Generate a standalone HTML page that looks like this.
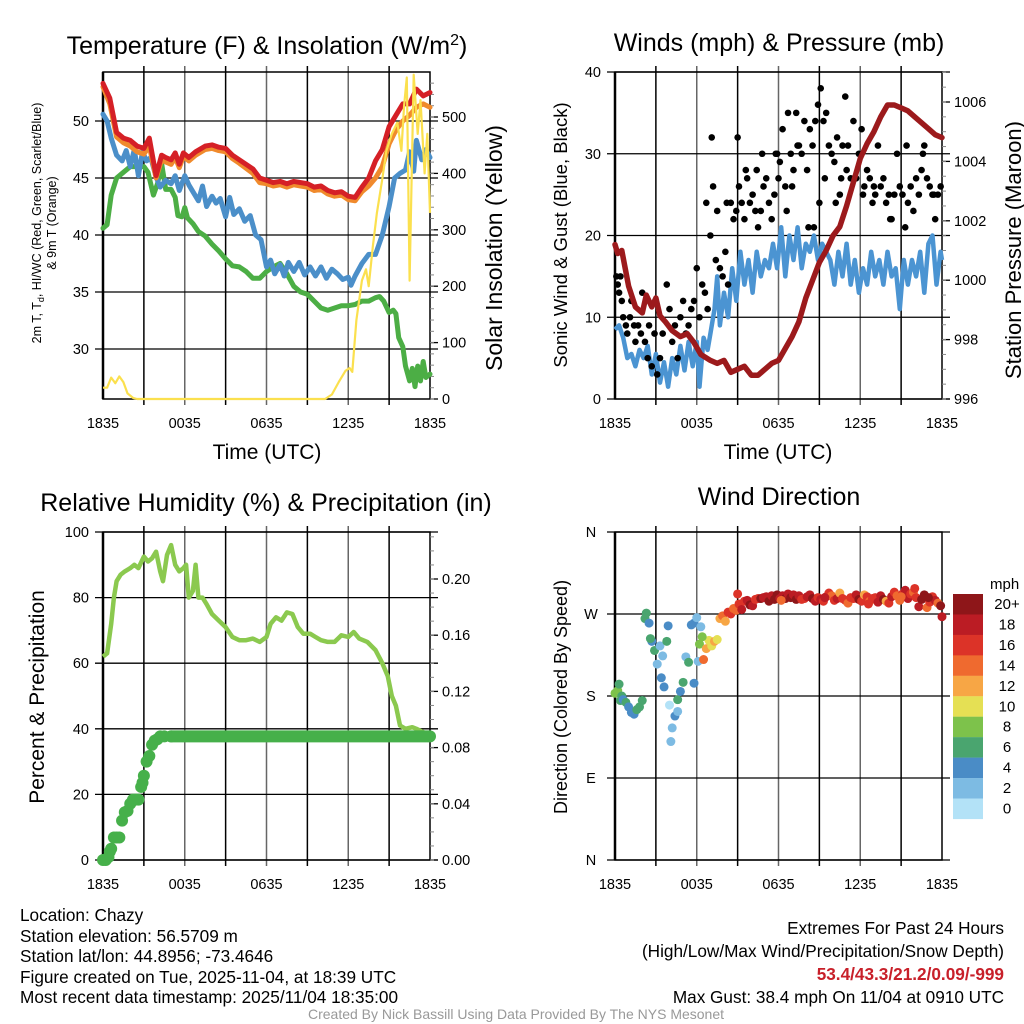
<!DOCTYPE html>
<html><head><meta charset="utf-8"><style>
html,body{margin:0;padding:0;background:#fff;}
svg{display:block;font-family:"Liberation Sans",sans-serif;}
</style></head><body>
<svg id="c" width="1024" height="1024" viewBox="0 0 1024 1024" xmlns="http://www.w3.org/2000/svg">
<rect width="1024" height="1024" fill="#fff"/>
<text x="267" y="54" font-size="25" text-anchor="middle">Temperature (F) &amp; Insolation (W/m<tspan dy="-9" font-size="16">2</tspan><tspan dy="9">)</tspan></text>
<text x="779" y="51" font-size="25" text-anchor="middle">Winds (mph) &amp; Pressure (mb)</text>
<text x="266" y="511" font-size="25" text-anchor="middle">Relative Humidity (%) &amp; Precipitation (in)</text>
<text x="779" y="505" font-size="25" text-anchor="middle">Wind Direction</text>
<text x="267" y="459" font-size="21" text-anchor="middle">Time (UTC)</text>
<text x="778" y="459" font-size="21" text-anchor="middle">Time (UTC)</text>
<g font-size="12.5" text-anchor="middle">
<text transform="translate(41,223) rotate(-90)">2m T, T<tspan dy="3" font-size="9">d</tspan><tspan dy="-3">, HI/WC (Red, Green, Scarlet/Blue)</tspan></text>
<text transform="translate(56,223) rotate(-90)">&amp; 9m T (Orange)</text>
</g>
<text transform="translate(502,248) rotate(-90)" font-size="23" text-anchor="middle">Solar Insolation (Yellow)</text>
<text transform="translate(567,235) rotate(-90)" font-size="18.5" text-anchor="middle">Sonic Wind &amp; Gust (Blue, Black)</text>
<text transform="translate(1021,250) rotate(-90)" font-size="22" text-anchor="middle">Station Pressure (Maroon)</text>
<text transform="translate(44,697) rotate(-90)" font-size="21" text-anchor="middle">Percent &amp; Precipitation</text>
<text transform="translate(567,697) rotate(-90)" font-size="18" text-anchor="middle">Direction (Colored By Speed)</text>
<g font-size="17.2">
<text x="20" y="921">Location: Chazy</text>
<text x="20" y="942">Station elevation: 56.5709 m</text>
<text x="20" y="962">Station lat/lon: 44.8956; -73.4646</text>
<text x="20" y="983">Figure created on Tue, 2025-11-04, at 18:39 UTC</text>
<text x="20" y="1003">Most recent data timestamp: 2025/11/04 18:35:00</text>
</g>
<g font-size="17.2" text-anchor="end">
<text x="1004" y="934">Extremes For Past 24 Hours</text>
<text x="1004" y="957">(High/Low/Max Wind/Precipitation/Snow Depth)</text>
<text x="1004" y="980" fill="#c8202a" font-weight="bold">53.4/43.3/21.2/0.09/-999</text>
<text x="1004" y="1003">Max Gust: 38.4 mph On 11/04 at 0910 UTC</text>
</g>
<text x="516" y="1019" font-size="14" fill="#999" text-anchor="middle">Created By Nick Bassill Using Data Provided By The NYS Mesonet</text>
</svg>
<script>
// ---- data (time in hours since 1835 UTC) ----
const timeTicks = ["1835","0035","0635","1235","1835"];
const tempT = [0,53.3,0.5,52,1,49,1.5,48.5,2,48.3,2.5,47.8,3,47.6,3.4,48.5,3.7,46.5,3.9,45.2,4.3,47,4.6,46.8,5,46.6,5.3,47.2,5.6,46.2,5.9,47.2,6.3,46.8,6.8,47.3,7.5,47.8,8,47.9,8.5,47.7,9,47.6,9.5,47,10,46.6,11,45.8,11.5,45,12,44.8,12.5,44.6,13,44.7,13.5,44.5,14,44.7,14.5,44.6,15,44.5,15.5,44.2,16,44.3,16.5,43.9,17,43.7,17.5,43.8,18,43.4,18.5,43.3,19,44.2,19.5,45,20,46.5,20.5,47.5,21,49.5,21.5,50.5,22,51.5,22.5,51.5,23,52.8,23.5,52.2,24,52.5];
const temp9m = [0,53,0.5,51.5,1,48.6,1.5,48.1,2,47.8,2.5,47.3,3,47.1,3.4,47.8,3.7,46.1,3.9,45,4.3,46.6,4.6,46.4,5,46.2,5.3,46.8,5.6,45.9,5.9,46.9,6.3,46.5,6.8,47,7.5,47.5,8,47.6,8.5,47.4,9,47.3,9.5,46.7,10,46.3,11,45.4,11.5,44.6,12,44.5,12.5,44.3,13,44.4,13.5,44.2,14,44.4,14.5,44.3,15,44.2,15.5,43.9,16,44,16.5,43.6,17,43.4,17.5,43.5,18,43.1,18.5,43,19,43.8,19.5,44.3,20,45,20.5,46,21,48,21.5,49.2,22,50,22.5,50.5,23,51.2,23.5,51.5,24,51.2];
const tempWC = [0,50.6,0.3,50,0.6,48.5,1,47,1.4,46.5,1.7,47.4,2,46,2.3,47.5,2.6,45.2,2.9,47.3,3.2,46.5,3.5,46.8,3.9,45.1,4.2,44.2,4.6,44.8,5,44.5,5.3,45.2,5.6,43.9,6,45.2,6.3,44.4,6.6,43.8,7,43,7.3,44.3,7.6,42.5,8,43.4,8.3,42.8,8.6,43.2,9,41.6,9.3,43.3,9.6,41.8,10,42.3,10.4,41.2,10.8,41.7,11.2,40,11.6,39.6,12,37.2,12.3,37.8,12.6,36.6,13,37.4,13.3,36.4,13.6,37.6,14,36.8,14.4,37.6,14.8,36.5,15.2,37.2,15.6,36.4,16,37.2,16.4,36.2,16.8,37,17.2,36.6,17.6,36.1,18,36.3,18.2,35.6,18.5,36.4,19,37.5,19.5,38.3,20,38.3,20.5,40,21,42.5,21.4,45,21.8,45.4,22.2,45.7,22.5,47.3,22.8,45.6,23,48.3,23.4,46.6,23.7,47.5,24,46.8];
const tempTd = [0,40.6,0.3,40.9,0.6,43.5,1,45,1.5,45.5,2,46,2.5,46,3,46,3.3,45.5,3.7,43.5,4,44.5,4.3,46.3,4.6,44,5,44,5.3,43.3,5.5,41.7,5.8,41.6,6,42.4,6.2,41.5,6.6,41,7,40.3,7.5,39.9,8,39.2,8.5,38.6,9,37.9,9.5,37.3,10,37.2,10.5,36.8,11,36.2,11.5,36.2,12,36.8,12.5,37.2,13,37.5,13.5,36.6,14,35.5,14.5,35,15,34.8,15.5,34.2,16,33.6,16.5,33.4,17,33.6,17.5,33.8,18,33.8,18.5,33.9,19,34.2,19.5,34.2,20,34.5,20.3,34.6,20.6,34.2,21,33.2,21.3,33.4,21.5,33.1,21.7,31,22,30.2,22.2,28.5,22.5,27.2,22.7,28.3,22.9,26.7,23.1,28.5,23.3,27.2,23.5,28.9,23.7,27.5,24,27.8];
const insolation = [0,20,0.3,20,0.6,38,0.9,28,1.2,40,1.5,30,1.8,10,2.2,2,2.5,0,6,0,12,0,16.3,0,16.8,8,17.3,30,17.8,50,18.1,55,18.3,48,18.6,140,19,210,19.3,230,19.5,200,19.8,270,20.1,330,20.5,390,20.8,440,21.2,470,21.6,490,21.9,440,22.1,520,22.3,570,22.5,210,22.8,575,23.1,470,23.3,530,23.6,400,23.8,470,24,330];
const pressure = [0,1001.2,0.2,1000.9,0.5,1001,1,999.8,1.5,999.1,2,998.9,2.3,999.5,2.7,999.1,3,999.4,3.3,998.8,3.7,998.6,4.2,998.3,4.8,998.1,5.3,998.2,5.8,997.9,6.3,997.5,7,997.3,7.5,997.2,8,997.3,8.5,996.9,9,997.0,9.5,997.1,10,996.8,10.5,996.8,11,997.0,11.5,997.2,12,997.3,12.5,997.7,13,998.1,13.5,998.6,14,999.4,14.5,1000.0,15,1000.6,15.5,1001.0,16,1001.5,16.5,1001.8,17,1002.5,17.5,1003.3,18,1004.1,18.5,1004.6,19,1005.0,19.5,1005.5,20,1005.9,20.5,1005.9,21,1005.8,21.5,1005.7,22,1005.5,22.5,1005.3,23,1005.1,23.5,1004.9,24,1004.8];
const windSpeed = [0,8.5,0.3,9,0.6,7.5,0.9,5,1.2,5.5,1.5,4,1.8,6,2.1,5,2.4,6.5,2.7,3,3,5.5,3.3,2,3.6,4.5,3.9,1.5,4.2,5,4.5,3,4.8,6.5,5.1,3.5,5.4,7,5.7,4,6,7,6.2,1.5,6.5,7.5,6.8,6,7,8,7.3,11,7.5,15,7.7,9,8,13,8.3,10,8.6,16,8.9,12,9.2,18,9.5,14,9.8,17,10.1,13,10.4,18,10.7,15,11,17,11.3,16,11.6,19,11.9,16,12.2,21,12.5,15,12.8,20,13.1,17,13.4,21,13.7,16,14,19,14.3,18,14.6,20,14.9,17,15.2,19,15.5,18,15.8,17,16.1,14,16.4,18,16.7,15,17,19,17.3,14,17.6,17,17.9,13,18.2,16,18.5,14,18.8,18,19.1,15,19.4,17,19.7,14,20,18,20.3,15,20.6,16,20.9,11,21.2,17,21.5,14,21.8,17,22.1,15,22.4,18,22.7,13,23,19,23.3,20,23.6,14,23.9,18,24,17];
const gustTime = [0.1,0.2,0.3,0.4,0.5,0.6,0.8,0.9,1.1,1.2,1.4,1.5,1.7,1.9,2.0,2.2,2.4,2.5,2.7,2.9,3.1,3.3,3.5,3.8,4.0,4.2,4.4,4.6,4.8,5.0,5.2,5.4,5.6,5.8,6.0,6.2,6.4,6.6,6.8,7.0,7.2,7.4,7.5,7.7,7.9,8.1,8.3,8.5,8.7,8.9,9.1,9.3,9.5,9.7,9.9,10.1,10.3,10.5,10.7,10.9,11.1,11.3,11.5,11.7,11.9,12.1,12.3,12.5,12.7,12.9,13.1,13.3,13.5,13.7,13.9,14.1,14.3,14.5,14.7,14.9,15.1,15.3,15.5,15.7,15.9,16.1,16.3,16.5,16.7,16.9,17.1,17.3,17.5,17.7,17.9,18.1,18.3,18.5,18.7,18.9,19.1,19.3,19.5,19.7,19.9,20.1,20.3,20.5,20.7,20.9,21.1,21.3,21.5,21.7,21.9,22.1,22.3,22.5,22.7,22.9,23.1,23.3,23.5,23.7,23.9,8.2,9.0,10.4,11.8,12.6,13.4,14.6,15.4,16.2,17.0,18.2,19.0,20.2,21.4,22.6,23.4,6.7,7.1,9.6,10.8,12.0,13.0,14.2,15.0,16.6];
const gustValue = [15,14,13,15,12,10,9,8,10,12,9,7,9,8,13,7,5,9,4,8,3,5,8,14,11,7,9,5,10,12,8,9,11,12,16,10,14,13,11,20,26,17,23,16,15,18,14,24,22,23,26,24,22,27,24,25,23,21,23,26,27,24,22,25,30,29,33,26,35,30,28,35,31,30,34,28,33,31,34,36,38,34,35,31,30,29,32,25,31,37,31,27,34,27,30,33,26,28,27,24,25,31,26,27,24,25,22,25,30,26,25,21,24,26,23,27,25,28,31,27,26,25,22,25,26,24,32,28,30,23,31,21,27,24,28,25,26,22,31,30,25,24,32,28,30,27,26,21,24,27,23,32,30,26];
const rh = [0,62,0.3,63,0.6,72,0.8,80,1,85,1.3,87,1.6,88,2,89,2.3,90,2.6,89,3,92.5,3.3,91,3.6,92,3.9,94,4.2,88,4.4,85,4.7,93,5,96,5.3,90,5.6,88,5.9,89,6.1,90,6.3,80,6.6,82,6.8,90,7,80,7.3,80,7.6,78,8,75,8.5,73,9,71,9.5,68,10,67,10.5,67,11,67.5,11.5,66.5,12,68,12.3,72,12.7,74,13.1,73,13.5,75.5,13.9,75,14.3,71,14.7,69,15.2,69,15.6,68,16,67,16.5,66.5,17,66.5,17.5,68.5,18,68,18.4,69.5,18.8,67.5,19.4,66.5,20,64,20.5,60,20.9,56,21.2,50,21.5,47,21.8,41,22.2,40,22.7,40.5,23,40,23.5,39,24,38];
const precipTime = [0,0.2,0.4,0.5,0.6,0.8,1,1.2,1.4,1.6,1.8,2,2.2,2.4,2.6,2.8,2.9,3,3.2,3.4,3.6,3.8,4,4.2,4.5,5];
const precipValue = [0,0,0.002,0.006,0.008,0.016,0.016,0.016,0.028,0.034,0.035,0.04,0.043,0.043,0.043,0.052,0.055,0.06,0.07,0.074,0.082,0.085,0.086,0.088,0.088,0.088];
const dirTime = [0,0.2,0.3,0.4,0.5,0.6,0.8,1.0,1.2,1.4,1.6,1.8,2.0,2.2,2.3,2.5,2.7,2.9,3.1,3.3,3.5,3.6,3.8,3.9,4.0,4.1,4.2,4.4,4.6,4.8,5.0,5.2,5.4,5.6,5.8,6.0,6.1,6.2,6.3,6.5,6.7,6.9,7.1,7.3,7.5,7.7,7.9,8.1,8.3,8.5,8.7,8.9,9.1,9.3,9.5,9.7,9.9,10.1,10.3,10.5,10.7,10.9,11.1,11.3,11.5,11.7,11.9,12.1,12.3,12.5,12.7,12.9,13.1,13.3,13.5,13.7,13.9,14.1,14.3,14.5,14.7,14.9,15.1,15.3,15.5,15.7,15.9,16.1,16.3,16.5,16.7,16.9,17.1,17.3,17.5,17.7,17.9,18.1,18.3,18.5,18.7,18.9,19.1,19.3,19.5,19.7,19.9,20.1,20.3,20.5,20.7,20.9,21.1,21.3,21.5,21.7,21.9,22.1,22.3,22.5,22.7,22.9,23.1,23.3,23.5,23.7,23.9,24.0,2.6,3.4,4.6,5.8,6.4,9.0,12.2,15.4,18.6,21.0,22.0,23.0];
const dirValue = [183,186,193,175,180,176,173,168,162,160,165,168,175,265,271,260,240,230,215,235,224,190,240,257,170,130,145,158,176,185,195,223,217,258,260,266,218,237,256,220,232,241,235,240,242,265,268,262,272,270,276,274,281,275,284,285,280,279,286,287,287,288,289,284,290,286,291,287,290,287,292,288,291,286,290,286,287,289,291,287,284,288,286,284,289,293,290,285,287,293,287,285,282,288,287,291,286,284,291,289,284,287,288,283,290,286,284,282,289,294,290,285,292,296,287,292,294,288,278,286,291,277,283,289,285,282,279,267,243,200,163,194,245,292,285,288,281,289,298,288];
const dirSpeed = [8,8,7,6,6,5,6,5,4,5,6,6,6,7,6,4,4,6,3,2,3,4,6,4,1,2,2,5,6,5,6,2,7,5,4,2,3,8,3,14,13,10,11,12,10,13,15,12,16,17,15,14,17,18,17,19,20,18,17,16,20,19,18,20,19,21,20,19,18,20,19,21,18,20,19,17,16,18,19,20,18,16,19,17,18,17,15,16,18,13,17,16,14,17,16,18,21,16,13,17,15,17,16,18,19,21,13,16,18,16,15,14,17,18,19,16,14,17,18,20,21,15,17,16,18,14,20,19,6,4,3,5,8,17,15,19,16,14,17,20];
const speedLabels = ["20+","18","16","14","12","10","8","6","4","2","0"];
const speedColors = ["#b3e2f7","#7dbbe3","#4a8cc6","#4aa56f","#7dc24b","#e5e054","#f7a645","#ef6a2f","#dc3328","#bb1c24","#8e1619"];
const tempTicks = [30,35,40,45,50];
const insolTicks = [0,100,200,300,400,500];
const windTicks = [0,10,20,30,40];
const presTicks = [996,998,1000,1002,1004,1006];
const rhTicks = [0,20,40,60,80,100];
const precipTicks = [0,0.04,0.08,0.12,0.16,0.20];
const dirTicks = ["N","E","S","W","N"];

// ---- drawing ----
const NS="http://www.w3.org/2000/svg";
const svg=document.getElementById('c');
function mk(tag,attrs,parent){const e=document.createElementNS(NS,tag);for(const k in attrs)e.setAttribute(k,attrs[k]);(parent||svg).appendChild(e);return e;}
function lin(d0,d1,r0,r1){return v=>r0+(v-d0)*(r1-r0)/(d1-d0);}
function pairs(a,fx,fy){let s='';for(let i=0;i<a.length;i+=2)s+=(i?'L':'M')+fx(a[i]).toFixed(1)+','+fy(a[i+1]).toFixed(1);return s;}

function frame(g,x0,x1,y0,y1,hLines){
  for(let h=3;h<24;h+=3){const x=x0+(x1-x0)*h/24;
    const l=mk('line',{x1:x,x2:x,y1:y0-6,y2:y1+6,stroke:h%6?'#000':'#666','stroke-width':1.5},g);
    }
  hLines.forEach(y=>{const l=mk('line',{x1:x0-8,x2:x1+8,y1:y,y2:y,stroke:'#000','stroke-width':1.3},g);
    });
  const r=mk('rect',{x:x0,y:y0,width:x1-x0,height:y1-y0,fill:'none',stroke:'#000','stroke-width':1.5},g);
  
  mk('line',{x1:x0,x2:x0,y1:y0,y2:y1,stroke:'#000','stroke-width':2.5},g);
  timeTicks.forEach((t,i)=>{const x=x0+(x1-x0)*i/4;
    const tx=mk('text',{x:x,y:y1+29,'font-size':14.5,'text-anchor':'middle'},g);tx.textContent=t;
    });
}
function leftTicks(g,x0,ticks,fy,fmt){ticks.forEach(v=>{const t=mk('text',{x:x0-14,y:fy(v)+5,'font-size':14.5,'text-anchor':'end'},g);t.textContent=fmt?fmt(v):v;
  });}
function rightTicks(g,x1,ticks,fy,fmt,minor){ticks.forEach(v=>{const y=fy(v);mk('line',{x1:x1,x2:x1+8,y1:y,y2:y,stroke:'#000','stroke-width':1.3},g);
  const t=mk('text',{x:x1+12,y:y+5,'font-size':14.5},g);t.textContent=fmt?fmt(v):v;
  });
  if(minor)minor.forEach(y=>mk('line',{x1:x1,x2:x1+4,y1:y,y2:y,stroke:'#888','stroke-width':1},g));}
function minorBetween(y0,y1,step){const a=[];for(let y=y1;y>=y0;y-=step)a.push(y);return a;}

// Panel 1
{const g=mk('g',{});
 const x0=103,x1=430,y0=72,y1=399;const fx=lin(0,24,x0,x1),fy=lin(30,50,349,121),fi=lin(0,500,399,117);
 frame(g,x0,x1,y0,y1,tempTicks.map(fy));leftTicks(g,x0,tempTicks,fy);
 rightTicks(g,x1,insolTicks,fi,null,minorBetween(y0,y1,11.28));
 const series=[[tempTd,'#4cae45','dewpoint-line'],[tempWC,'#4b8fc9','wind-chill-line'],[temp9m,'#f08a2c','temp-9m-line'],[tempT,'#d52026','temp-2m-line']];
 series.forEach(s=>{const p=mk('path',{d:pairs(s[0],fx,fy),fill:'none',stroke:s[1],'stroke-width':5,'stroke-linejoin':'round','stroke-linecap':'round'},g);
   });
 const p=mk('path',{d:pairs(insolation,fx,fi),fill:'none',stroke:'#fbe04e','stroke-width':2.2,'stroke-linejoin':'round'},g);
 }

// Panel 2
{const g=mk('g',{});
 const x0=615,x1=942,y0=72,y1=399;const fx=lin(0,24,x0,x1),fy=lin(0,40,399,72),fp=lin(996,1006,399,102);
 frame(g,x0,x1,y0,y1,windTicks.map(fy));leftTicks(g,x0,windTicks,fy);
 rightTicks(g,x1,presTicks,fp,null,minorBetween(y0,y1,14.85));
 const w=mk('path',{d:pairs(windSpeed,fx,fy),fill:'none',stroke:'#4b94d2','stroke-width':4.5,'stroke-linejoin':'round'},g);
 
 gustTime.forEach((t,i)=>{const c=mk('circle',{cx:fx(t),cy:fy(gustValue[i]),r:3.3,fill:'#000'},g);
   });
 const pr=mk('path',{d:pairs(pressure,fx,fp),fill:'none',stroke:'#9c1a1c','stroke-width':5.5,'stroke-linejoin':'round','stroke-linecap':'round'},g);
 }

// Panel 3
{const g=mk('g',{});
 const x0=103,x1=430,y0=532,y1=860;const fx=lin(0,24,x0,x1),fy=lin(0,100,860,532),fq=lin(0,0.2,860,579);
 frame(g,x0,x1,y0,y1,rhTicks.map(fy));leftTicks(g,x0,rhTicks,fy);
 rightTicks(g,x1,precipTicks,fq,v=>v.toFixed(2),minorBetween(y0,y1,14.05));
 const p=mk('path',{d:pairs(rh,fx,fy),fill:'none',stroke:'#8bc94f','stroke-width':4.5,'stroke-linejoin':'round'},g);
 
 precipTime.forEach((t,i)=>{const c=mk('circle',{cx:fx(t),cy:fq(precipValue[i]),r:6,fill:'#46b04a'},g);
   });
 const last=precipValue[precipValue.length-1];
 const fl=mk('line',{x1:fx(precipTime[precipTime.length-1]),x2:fx(24),y1:fq(last),y2:fq(last),stroke:'#46b04a','stroke-width':12,'stroke-linecap':'round'},g);
 }

// Panel 4
{const g=mk('g',{});
 const x0=615,x1=942,y0=532,y1=860;const fx=lin(0,24,x0,x1),fy=lin(0,360,860,532);
 frame(g,x0,x1,y0,y1,[0,90,180,270,360].map(fy));
 dirTicks.forEach((d,i)=>{const t=mk('text',{x:591,y:fy(i*90)+5,'font-size':14.5,'text-anchor':'middle'},g);t.textContent=d;
   });
 dirTime.forEach((t,i)=>{const k=Math.min(10,Math.floor(dirSpeed[i]/2));
   const c=mk('circle',{cx:fx(t),cy:fy(dirValue[i]),r:4.5,fill:speedColors[k]},g);
   });
 const lg=mk('g',{},g);
 const t0=mk('text',{x:990,y:589,'font-size':15},lg);t0.textContent='mph';
 speedLabels.forEach((s,i)=>{const y=594+i*20.45;
   mk('rect',{x:953,y:y,width:30,height:20.6,fill:speedColors[10-i]},lg);
   const t=mk('text',{x:1007,y:y+15,'font-size':15,'text-anchor':'middle'},lg);t.textContent=s;
   });}
</script>
</body></html>
